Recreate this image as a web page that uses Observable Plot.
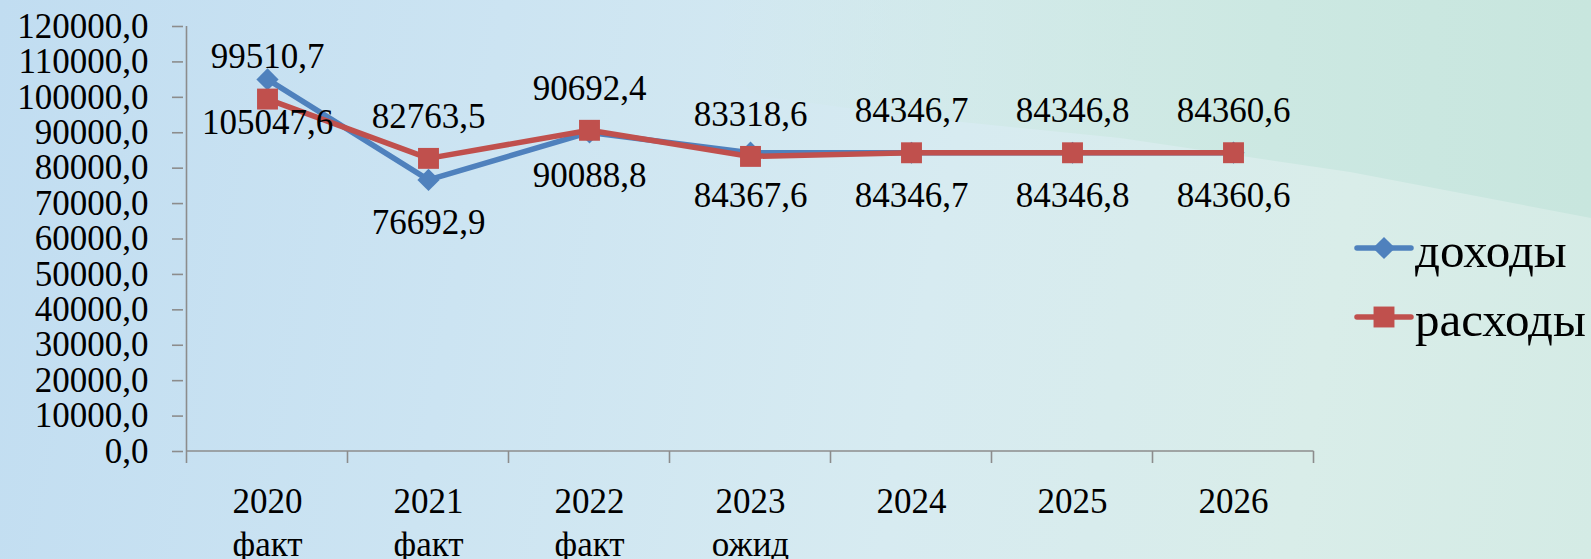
<!DOCTYPE html>
<html><head><meta charset="utf-8">
<script src="https://cdn.jsdelivr.net/npm/d3@7"></script>
<script src="https://cdn.jsdelivr.net/npm/@observablehq/plot@0.6"></script>
<style>
html,body{margin:0;padding:0;}
#wrap{position:relative;width:1591px;height:559px;overflow:hidden;
 background: linear-gradient(100deg, #c1ddf1 0%, #cce4f2 30%, #d7ebf1 58%, #d9ede9 82%, #d4ebe5 100%);}
#swoosh{position:absolute;left:0;top:0;width:1591px;height:559px;
 background: linear-gradient(90deg, rgba(204,231,228,0) 0%, rgba(204,231,228,0) 45%, rgba(204,232,226,1) 80%, rgba(200,230,222,1) 100%);
 clip-path: polygon(600px 0, 1591px 0, 1591px 218px, 1350px 172px, 1120px 138px, 913px 117px, 760px 96px);}
#chart{position:absolute;left:0;top:0;}
#chart svg, #chart svg text{font-family:"Liberation Serif","Times New Roman",serif !important;}
.legtext{position:absolute;left:1415px;font-family:"Liberation Serif",serif;font-size:49px;line-height:1;color:#000;white-space:nowrap;}
.legsw{position:absolute;left:1354px;}
</style>
</head><body>
<div id="wrap"><div id="swoosh"></div><div id="chart"></div><div id="legend"></div></div>
<script>
const categories = ["2020\nфакт","2021\nфакт","2022\nфакт","2023\nожид","2024","2025","2026"];
const incomeValues = [105047.6, 76692.9, 90088.8, 84367.6, 84346.7, 84346.8, 84360.6];
const expenseValues = [99510.7, 82763.5, 90692.4, 83318.6, 84346.7, 84346.8, 84360.6];
const yTicks = [0,10000,20000,30000,40000,50000,60000,70000,80000,90000,100000,110000,120000];
const seriesNames = ["доходы","расходы"];
const seriesColors = ["#4f81bd","#c0504d"];

const fmt = v => d3.format(".1f")(v).replace(".", ",");
const income = categories.map((c,i)=>({cat:c, value:incomeValues[i]}));
const expense = categories.map((c,i)=>({cat:c, value:expenseValues[i]}));
const axisColor = "#8c8c8c";
const font = "'Liberation Serif', 'Times New Roman', serif";

function axisFrame(index, scales) {
  const x = scales.x, y = scales.y;
  const xs = categories.map(c => x(c));
  const step = xs[1]-xs[0];
  const bounds = [...xs.map(v=>v-step/2), xs[xs.length-1]+step/2];
  const y0 = y(yTicks[0]), yTop = y(yTicks[yTicks.length-1]);
  const g = d3.create("svg:g").attr("stroke",axisColor).attr("stroke-width",1.6);
  g.append("line").attr("x1",bounds[0]).attr("x2",bounds[0]).attr("y1",yTop).attr("y2",y0);
  g.append("line").attr("x1",bounds[0]).attr("x2",bounds[bounds.length-1]).attr("y1",y0).attr("y2",y0);
  for (const b of bounds) g.append("line").attr("x1",b).attr("x2",b).attr("y1",y0).attr("y2",y0+12);
  return g.node();
}

const chart = Plot.plot({
  width:1591, height:559,
  marginLeft:183, marginRight:275, marginTop:26, marginBottom:108,
  style:{background:"transparent", fontFamily:font, color:"#000", overflow:"visible"},
  x:{type:"point", domain:categories, padding:0.5, label:null},
  y:{domain:[0,120000], label:null},
  marks:[
    Plot.axisY({ticks:yTicks, tickFormat:fmt, tickSize:11, tickPadding:24, fontSize:35, fontFamily:font, stroke:axisColor, strokeWidth:1.6, fill:"#000", label:null}),
    Plot.axisX({tickSize:0, tickPadding:30, fontSize:35, fontFamily:font, lineHeight:1.25, fill:"#000", label:null, tickFormat:d=>d}),
    axisFrame,
    Plot.line(income, {x:"cat", y:"value", stroke:seriesColors[0], strokeWidth:5.5, strokeLinejoin:"round"}),
    Plot.dot(income, {x:"cat", y:"value", symbol:"diamond2", r:10, fill:seriesColors[0], stroke:"none"}),
    Plot.line(expense, {x:"cat", y:"value", stroke:seriesColors[1], strokeWidth:5.5, strokeLinejoin:"round"}),
    Plot.dot(expense, {x:"cat", y:"value", symbol:"square", r:11.8, fill:seriesColors[1], stroke:"none"}),
    Plot.text(expense, {x:"cat", y:"value", text:d=>fmt(d.value), dy:-42, fontSize:35, fontFamily:font, fill:"#000"}),
    Plot.text(income, {x:"cat", y:"value", text:d=>fmt(d.value), dy:43, fontSize:35, fontFamily:font, fill:"#000"})
  ]
});
document.getElementById("chart").appendChild(chart);

// legend
const legend = document.getElementById("legend");
const legY = [248, 317];
seriesNames.forEach((name,i)=>{
  const sw = document.createElementNS("http://www.w3.org/2000/svg","svg");
  sw.setAttribute("width","60"); sw.setAttribute("height","30");
  sw.setAttribute("class","legsw");
  sw.style.top = (legY[i]-15)+"px";
  const ln = document.createElementNS("http://www.w3.org/2000/svg","line");
  ln.setAttribute("x1","3"); ln.setAttribute("x2","57"); ln.setAttribute("y1","15"); ln.setAttribute("y2","15");
  ln.setAttribute("stroke",seriesColors[i]); ln.setAttribute("stroke-width","5.5"); ln.setAttribute("stroke-linecap","round");
  sw.appendChild(ln);
  const mk = document.createElementNS("http://www.w3.org/2000/svg","path");
  mk.setAttribute("d", i===0 ? d3.symbol(d3.symbolDiamond2, Math.PI*100)() : d3.symbol(d3.symbolSquare, Math.PI*11.8*11.8)());
  mk.setAttribute("transform","translate(30,15)");
  mk.setAttribute("fill",seriesColors[i]);
  sw.appendChild(mk);
  legend.appendChild(sw);
  const t = document.createElement("div");
  t.className = "legtext"; t.textContent = name;
  t.style.top = (legY[i]+19-41)+"px";
  legend.appendChild(t);
});
</script>
</body></html>
